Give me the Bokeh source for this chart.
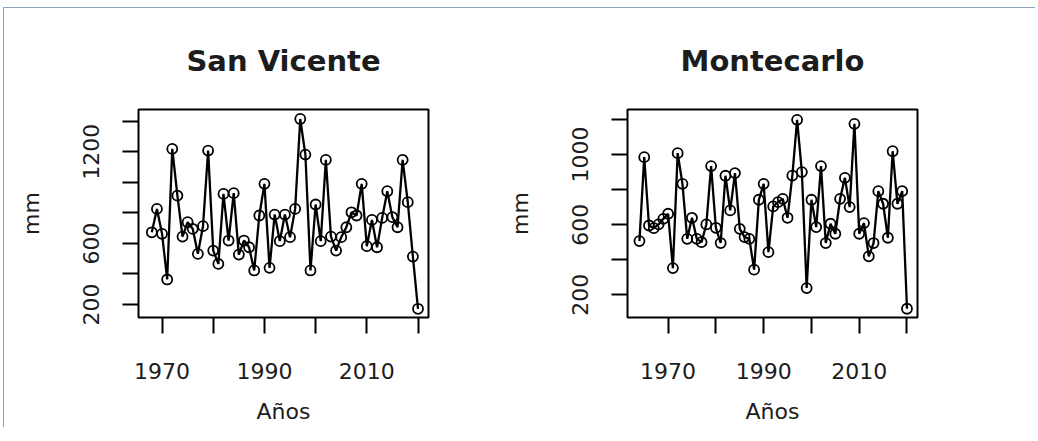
from bokeh.plotting import figure
from bokeh.layouts import row
from bokeh.models import FixedTicker, Range1d, ColumnDataSource
from bokeh.embed import file_html
from bokeh.resources import INLINE

# ---- data ----
years_sv = list(range(1968, 2021))
rain_sv = [673, 826, 663, 364, 1219, 913, 645, 739, 695, 532,
           713, 1208, 553, 466, 924, 619, 929, 527, 619, 575,
           423, 783, 990, 440, 789, 615, 789, 641, 826, 1415,
           1182, 423, 855, 615, 1147, 645, 553, 641, 706, 804,
           783, 990, 582, 754, 575, 767, 942, 772, 706, 1147,
           870, 514, 172]

years_mc = list(range(1964, 2021))
rain_mc = [506, 985, 595, 580, 601, 633, 662, 352, 1008, 833,
           519, 639, 519, 500, 601, 934, 582, 495, 879, 681,
           894, 576, 529, 519, 343, 742, 833, 443, 704, 728,
           747, 639, 880, 1198, 900, 238, 742, 586, 934, 495,
           605, 548, 747, 867, 700, 1175, 548, 609, 419, 495,
           791, 719, 525, 1019, 719, 791, 120]

x_ticks = [1970, 1980, 1990, 2000, 2010, 2020]
x_labels = [1970, 1990, 2010]
y_ticks_sv = [200, 400, 600, 800, 1000, 1200, 1400]
y_labels_sv = [200, 600, 1200]
y_ticks_mc = [200, 400, 600, 800, 1000, 1200]
y_labels_mc = [200, 600, 1000]

FONT = "DejaVu Sans"
TXT = "#1c1c1c"


def make_panel(title, years, vals, xr, yr, yticks, ylabels, left_border, right_border):
    p = figure(title=title, frame_width=290, frame_height=208,
               x_range=Range1d(*xr), y_range=Range1d(*yr),
               min_border_left=left_border, min_border_right=right_border,
               min_border_top=101, min_border_bottom=110,
               output_backend="svg", toolbar_location=None,
               background_fill_color="white", border_fill_color="white")
    p.outline_line_color = "black"
    p.outline_line_width = 2
    p.xgrid.visible = False
    p.ygrid.visible = False

    p.title.align = "center"
    p.title.text_font = FONT
    p.title.text_font_size = "29px"
    p.title.text_font_style = "bold"
    p.title.text_color = TXT
    p.title.standoff = 64

    for ax in (p.xaxis[0], p.yaxis[0]):
        ax.axis_line_color = None
        ax.major_tick_line_color = "black"
        ax.major_tick_line_width = 2
        ax.major_tick_in = 0
        ax.major_tick_out = 16
        ax.minor_tick_line_color = None
        ax.major_label_text_font = FONT
        ax.major_label_text_font_size = "22px"
        ax.major_label_text_color = TXT
        ax.axis_label_text_font = FONT
        ax.axis_label_text_font_size = "22px"
        ax.axis_label_text_font_style = "normal"
        ax.axis_label_text_color = TXT

    p.xaxis.ticker = FixedTicker(ticks=x_ticks)
    p.xaxis.major_label_overrides = {t: (str(t) if t in x_labels else "") for t in x_ticks}
    p.xaxis.major_label_standoff = 29
    p.xaxis.axis_label = "Años"
    p.xaxis.axis_label_standoff = 17

    p.yaxis.ticker = FixedTicker(ticks=yticks)
    p.yaxis.major_label_overrides = {t: (str(t) if t in ylabels else "") for t in yticks}
    p.yaxis.major_label_orientation = "vertical"
    p.yaxis.major_label_standoff = 23
    p.yaxis.axis_label = "mm"
    p.yaxis.axis_label_standoff = 37

    src = ColumnDataSource(dict(x=years, y=vals))
    p.line("x", "y", source=src, line_color="black", line_width=2.3)
    p.scatter("x", "y", source=src, marker="circle", size=10,
              fill_color=None, line_color="black", line_width=1.8)
    return p


p1 = make_panel("San Vicente", years_sv, rain_sv, (1965.4, 2022.05), (115, 1477),
                y_ticks_sv, y_labels_sv, 134, 69)
p2 = make_panel("Montecarlo", years_mc, rain_mc, (1961.5, 2022.2), (70, 1257),
                y_ticks_mc, y_labels_mc, 130, 118)

layout = row(p1, p2, margin=(7, 0, 0, 3),
             styles={"border-top": "1px solid #8da2b8",
                     "border-left": "1px solid #8da2b8"})
open("out.html", "w").write(file_html(layout, INLINE))
